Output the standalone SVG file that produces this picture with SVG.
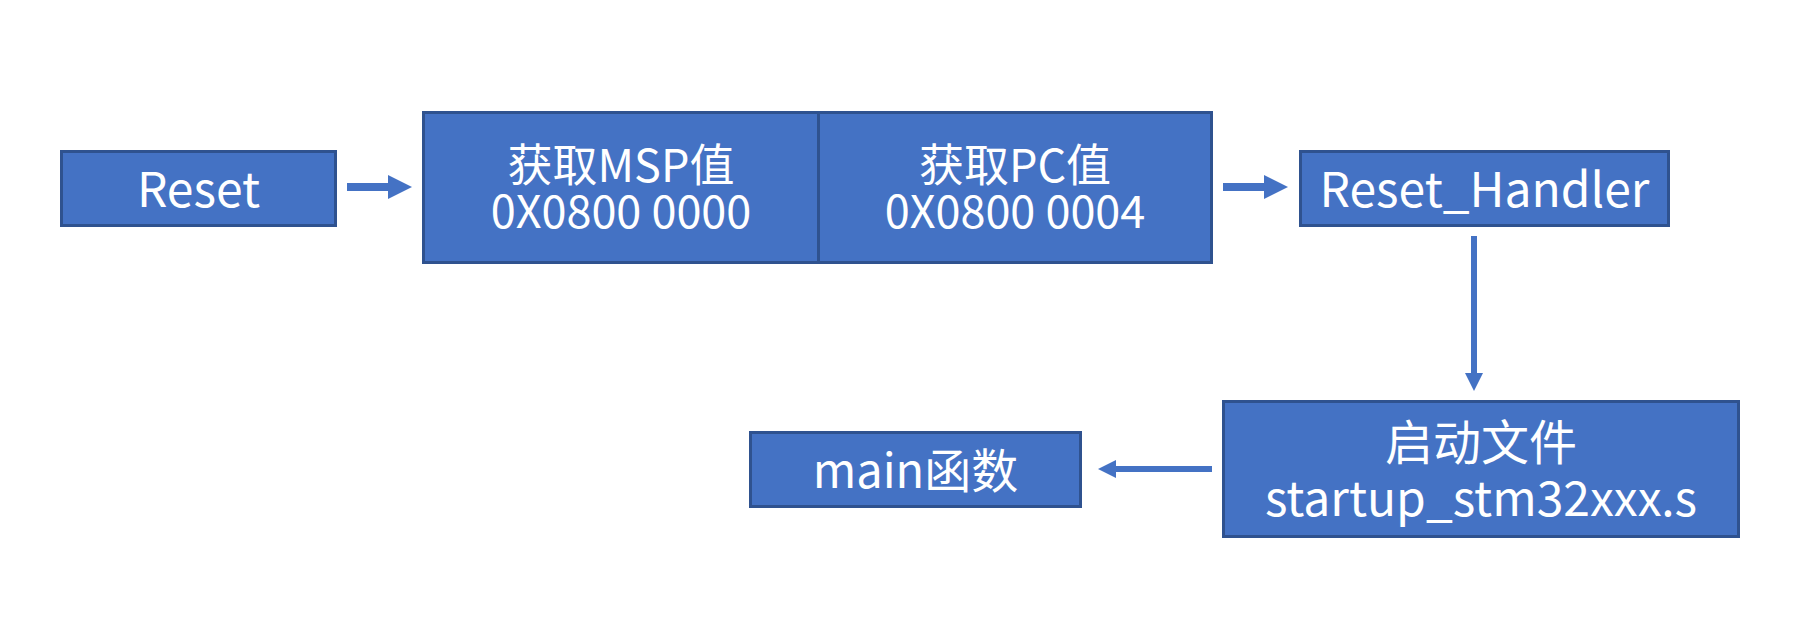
<svg xmlns="http://www.w3.org/2000/svg" width="1797" height="618" viewBox="0 0 1797 618">
<defs>
<style>
.box{fill:#4472C4;stroke:#2F528F;stroke-width:3}
.t{fill:#FFFFFF;font-family:"Noto Sans CJK SC","Noto Sans",sans-serif;text-anchor:middle}
.big{font-size:48px}
.mid{font-size:45px}
.thick{stroke:#4472C4;stroke-width:8;fill:none}
.thin{stroke:#4472C4;stroke-width:6;fill:none}
</style>
<marker id="hBig" markerUnits="userSpaceOnUse" markerWidth="24" markerHeight="24" refX="0" refY="12" orient="auto" viewBox="0 0 24 24">
<path d="M0,0 L24,12 L0,24 Z" fill="#4472C4"/>
</marker>
<marker id="hSmall" markerUnits="userSpaceOnUse" markerWidth="18" markerHeight="18" refX="0" refY="9" orient="auto" viewBox="0 0 18 18">
<path d="M0,0 L18,9 L0,18 Z" fill="#4472C4"/>
</marker>
</defs>
<rect width="1797" height="618" fill="#FFFFFF"/>
<g id="connectors">
<line class="thick" x1="347" y1="187" x2="388" y2="187" marker-end="url(#hBig)"/>
<line class="thick" x1="1223" y1="187" x2="1264" y2="187" marker-end="url(#hBig)"/>
<line class="thin" x1="1474" y1="236" x2="1474" y2="373" marker-end="url(#hSmall)"/>
<line class="thin" x1="1212" y1="469" x2="1116" y2="469" marker-end="url(#hSmall)"/>
</g>
<g id="reset">
<rect class="box" x="61.5" y="151.5" width="274" height="74"/>
<text class="t big" x="198.5" y="207">Reset</text>
</g>
<g id="msp">
<rect class="box" x="423.5" y="112.5" width="395" height="150"/>
<text class="t mid" x="621" y="182"><tspan x="621" y="182">获取MSP值</tspan><tspan x="621" y="228">0X0800 0000</tspan></text>
</g>
<g id="pc">
<rect class="box" x="818.5" y="112.5" width="393" height="150"/>
<text class="t mid" x="1015" y="182"><tspan x="1015" y="182">获取PC值</tspan><tspan x="1015" y="228">0X0800 0004</tspan></text>
</g>
<g id="reset-handler">
<rect class="box" x="1300.5" y="151.5" width="368" height="74"/>
<text class="t big" x="1484.5" y="207">Reset_Handler</text>
</g>
<g id="startup">
<rect class="box" x="1223.5" y="401.5" width="515" height="135"/>
<text class="t big" x="1481" y="460"><tspan x="1481" y="460">启动文件</tspan><tspan x="1481" y="516">startup_stm32xxx.s</tspan></text>
</g>
<g id="main">
<rect class="box" x="750.5" y="432.5" width="330" height="74"/>
<text class="t" style="font-size:47px" x="915.5" y="488">main函数</text>
</g>
</svg>
